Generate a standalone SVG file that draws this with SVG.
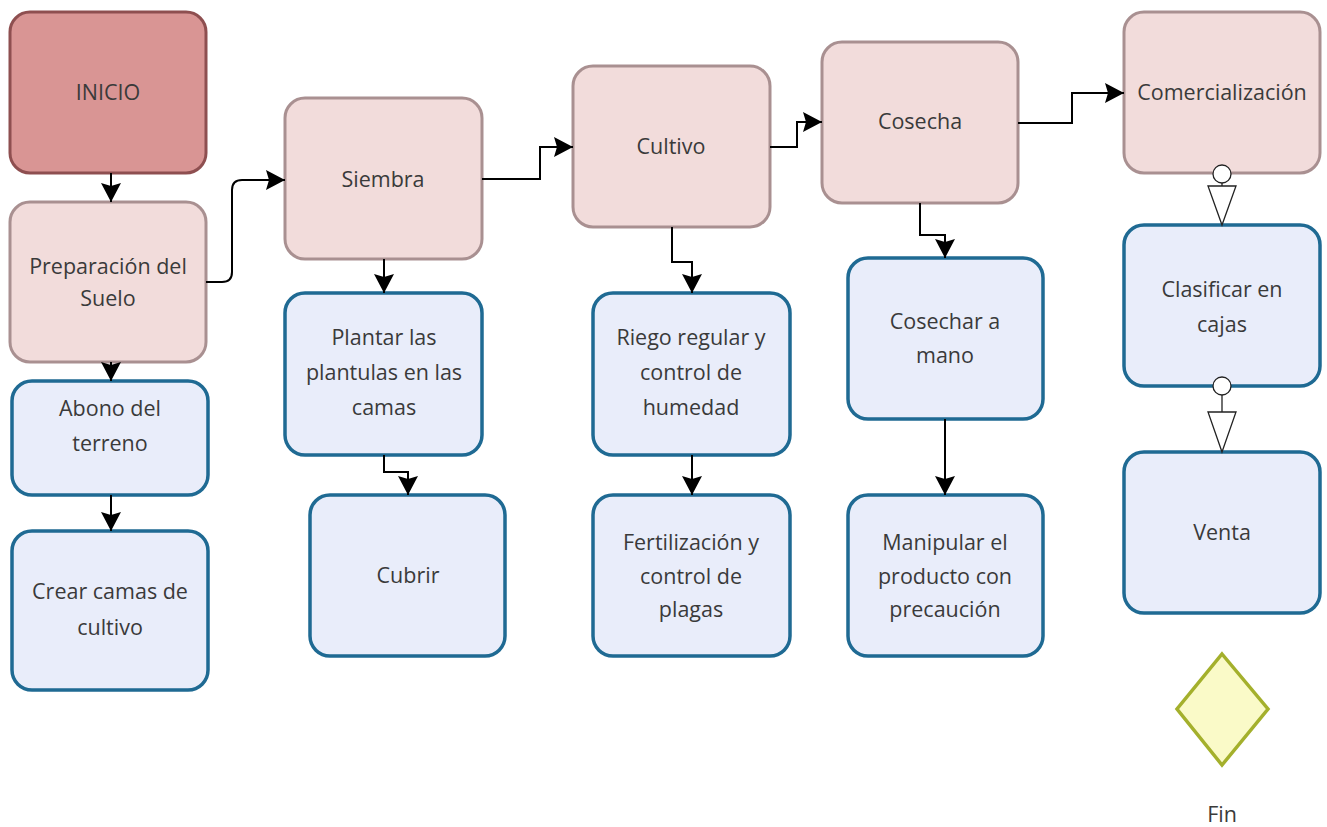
<svg xmlns="http://www.w3.org/2000/svg" width="1327" height="827" viewBox="0 0 1327 827">
<style>
.start{fill:#d99594;stroke:#8e4f50;stroke-width:3}
.main{fill:#f2dcdb;stroke:#a99091;stroke-width:3}
.sub{fill:#e9edfa;stroke:#1f6a93;stroke-width:3.5}
.dia{fill:#fafac8;stroke:#a4b02c;stroke-width:3.5}
text{font-family:"Open Sans","Noto Sans",sans-serif;font-size:21.5px;fill:#3a3a3a;text-anchor:middle}
.c{fill:none;stroke:#000;stroke-width:2;marker-end:url(#ah)}
.o{fill:#fff;stroke:#222;stroke-width:1.3}
</style>
<defs>
<marker id="ah" markerUnits="userSpaceOnUse" markerWidth="22" markerHeight="22" refX="19" refY="10" orient="auto">
<path d="M0,0 L19,10 L0,20 L3,10 z" fill="#000"/>
</marker>
</defs>
<rect width="1327" height="827" fill="#fff"/>
<g id="inicio"><rect class="start" x="10" y="12" width="196" height="161" rx="20"/><text x="108" y="100">INICIO</text></g>
<g id="preparacion"><rect class="main" x="10" y="202" width="196" height="160" rx="20"/><text x="108" y="274">Preparación del</text><text x="108" y="306">Suelo</text></g>
<g id="abono"><rect class="sub" x="12" y="381" width="196" height="114" rx="20"/><text x="110" y="416">Abono del</text><text x="110" y="451">terreno</text></g>
<g id="camas"><rect class="sub" x="12" y="531" width="196" height="159" rx="20"/><text x="110" y="599">Crear camas de</text><text x="110" y="635">cultivo</text></g>
<g id="siembra"><rect class="main" x="285" y="98" width="197" height="161" rx="20"/><text x="383" y="187">Siembra</text></g>
<g id="plantar"><rect class="sub" x="285" y="293" width="197" height="162" rx="20"/><text x="384" y="345">Plantar las</text><text x="384" y="380">plantulas en las</text><text x="384" y="415">camas</text></g>
<g id="cubrir"><rect class="sub" x="310" y="495" width="195" height="161" rx="20"/><text x="408" y="583">Cubrir</text></g>
<g id="cultivo"><rect class="main" x="573" y="66" width="197" height="161" rx="20"/><text x="671" y="154">Cultivo</text></g>
<g id="riego"><rect class="sub" x="593" y="293" width="197" height="162" rx="20"/><text x="691" y="345">Riego regular y</text><text x="691" y="380">control de</text><text x="691" y="415">humedad</text></g>
<g id="fertilizacion"><rect class="sub" x="593" y="495" width="197" height="161" rx="20"/><text x="691" y="550">Fertilización y</text><text x="691" y="584">control de</text><text x="691" y="617">plagas</text></g>
<g id="cosecha"><rect class="main" x="822" y="42" width="196" height="161" rx="20"/><text x="920" y="129">Cosecha</text></g>
<g id="cosechar"><rect class="sub" x="848" y="258" width="195" height="161" rx="20"/><text x="945" y="329">Cosechar a</text><text x="945" y="363">mano</text></g>
<g id="manipular"><rect class="sub" x="848" y="495" width="195" height="161" rx="20"/><text x="945" y="550">Manipular el</text><text x="945" y="584">producto con</text><text x="945" y="617">precaución</text></g>
<g id="comercializacion"><rect class="main" x="1124" y="12" width="196" height="161" rx="20"/><text x="1222" y="100">Comercialización</text></g>
<g id="clasificar"><rect class="sub" x="1124" y="225" width="196" height="161" rx="20"/><text x="1222" y="297">Clasificar en</text><text x="1222" y="332">cajas</text></g>
<g id="venta"><rect class="sub" x="1124" y="452" width="196" height="161" rx="20"/><text x="1222" y="540">Venta</text></g>
<g id="fin"><path class="dia" d="M1222,654 L1268,709 L1222,765 L1177,709 z"/><text x="1222" y="822">Fin</text></g>
<g id="connectors">
<path class="c" d="M111,173 V202"/>
<path class="c" d="M111,362 V381"/>
<path class="c" d="M111,495 V531"/>
<path class="c" d="M206,282 H222 Q232,282 232,272 V190 Q232,180 242,180 H285"/>
<path class="c" d="M384,259 V293"/>
<path class="c" d="M384,455 V472 H408 V495"/>
<path class="c" d="M482,179 H540 V147 H573"/>
<path class="c" d="M672,227 V262 H692 V293"/>
<path class="c" d="M692,455 V495"/>
<path class="c" d="M770,147 H797 V122 H822"/>
<path class="c" d="M920,203 V235 H945 V258"/>
<path class="c" d="M945,419 V495"/>
<path class="c" d="M1018,123 H1072 V93 H1124"/>
<line x1="1222" y1="183" x2="1222" y2="186" stroke="#222" stroke-width="1.3"/>
<circle class="o" cx="1222" cy="174" r="9"/>
<path class="o" d="M1208,186 L1236,186 L1222,225 z"/>
<line x1="1222" y1="395" x2="1222" y2="412" stroke="#222" stroke-width="1.3"/>
<circle class="o" cx="1222" cy="386" r="9"/>
<path class="o" d="M1208,412 L1236,412 L1222,452 z"/>
</g>
</svg>
